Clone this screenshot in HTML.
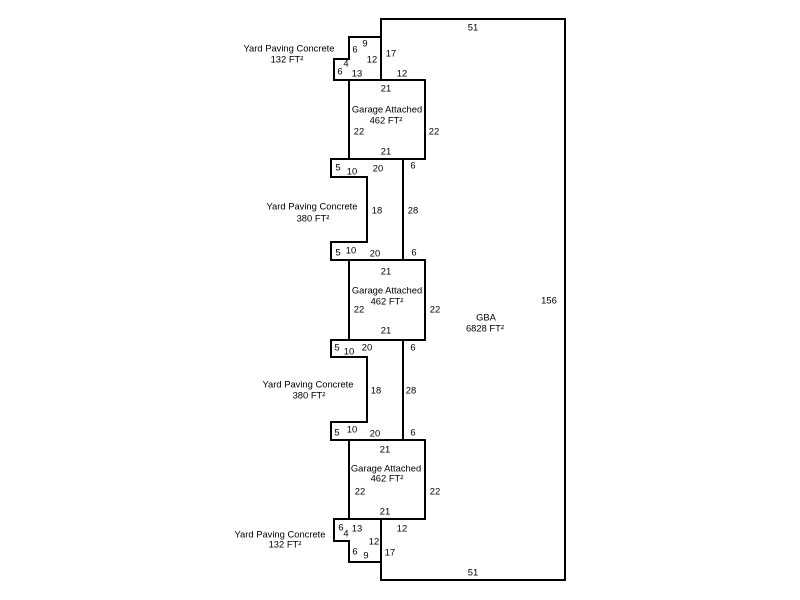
<!DOCTYPE html>
<html>
<head>
<meta charset="utf-8">
<style>
html,body{margin:0;padding:0;background:#fff;}
svg{display:block;}
text{font-family:"Liberation Sans",Arial,sans-serif;font-size:9.4px;fill:#000;}
</style>
</head>
<body>
<svg width="800" height="600" viewBox="0 0 800 600" xmlns="http://www.w3.org/2000/svg">
<g fill="none" stroke="#000" stroke-width="2" stroke-linejoin="miter">
  <polyline points="381,80 381,19 565,19 565,580 381,580 381,519"/>
  <rect x="349" y="80" width="76" height="79"/>
  <rect x="349" y="260" width="76" height="80"/>
  <rect x="349" y="440" width="76" height="79"/>
  <line x1="403" y1="159" x2="403" y2="260"/>
  <line x1="403" y1="340" x2="403" y2="440"/>
  <polyline points="381,37 349,37 349,59 334,59 334,80 349,80"/>
  <polyline points="349,159 331,159 331,177 367,177 367,242 331,242 331,260 349,260"/>
  <polyline points="349,340 331,340 331,357 367,357 367,422 331,422 331,440 349,440"/>
  <polyline points="349,519 334,519 334,541 349,541 349,562 381,562"/>
</g>
<g text-anchor="middle" dominant-baseline="central">
  <text x="473" y="27">51</text>
  <text x="365" y="43">9</text>
  <text x="355" y="49">6</text>
  <text x="391" y="53">17</text>
  <text x="372" y="59">12</text>
  <text x="346" y="63">4</text>
  <text x="340" y="71">6</text>
  <text x="357" y="73">13</text>
  <text x="402" y="73">12</text>
  <text x="289" y="48">Yard Paving Concrete</text>
  <text x="287" y="59">132 FT²</text>

  <text x="386" y="88">21</text>
  <text x="387" y="109">Garage Attached</text>
  <text x="386" y="120">462 FT²</text>
  <text x="359" y="131">22</text>
  <text x="434" y="131">22</text>
  <text x="386" y="151">21</text>

  <text x="338" y="167">5</text>
  <text x="352" y="171">10</text>
  <text x="378" y="168">20</text>
  <text x="413" y="165">6</text>
  <text x="312" y="206">Yard Paving Concrete</text>
  <text x="313" y="218">380 FT²</text>
  <text x="377" y="210">18</text>
  <text x="413" y="210">28</text>
  <text x="338" y="252">5</text>
  <text x="351" y="250">10</text>
  <text x="375" y="253">20</text>
  <text x="414" y="252">6</text>

  <text x="386" y="271">21</text>
  <text x="387" y="290">Garage Attached</text>
  <text x="387" y="301">462 FT²</text>
  <text x="359" y="309">22</text>
  <text x="435" y="309">22</text>
  <text x="386" y="330">21</text>

  <text x="549" y="300">156</text>
  <text x="486" y="317">GBA</text>
  <text x="485" y="328">6828 FT²</text>

  <text x="337" y="347">5</text>
  <text x="349" y="351">10</text>
  <text x="367" y="347">20</text>
  <text x="413" y="347">6</text>
  <text x="308" y="384">Yard Paving Concrete</text>
  <text x="309" y="395">380 FT²</text>
  <text x="376" y="390">18</text>
  <text x="411" y="390">28</text>
  <text x="337" y="432">5</text>
  <text x="352" y="429">10</text>
  <text x="375" y="433">20</text>
  <text x="413" y="432">6</text>

  <text x="385" y="449">21</text>
  <text x="386" y="468">Garage Attached</text>
  <text x="387" y="478">462 FT²</text>
  <text x="360" y="491">22</text>
  <text x="435" y="491">22</text>
  <text x="385" y="511">21</text>

  <text x="341" y="527">6</text>
  <text x="346" y="533">4</text>
  <text x="357" y="528">13</text>
  <text x="402" y="528">12</text>
  <text x="280" y="534">Yard Paving Concrete</text>
  <text x="285" y="544">132 FT²</text>
  <text x="374" y="541">12</text>
  <text x="355" y="551">6</text>
  <text x="366" y="555">9</text>
  <text x="390" y="552">17</text>
  <text x="473" y="572">51</text>
</g>
</svg>
</body>
</html>
